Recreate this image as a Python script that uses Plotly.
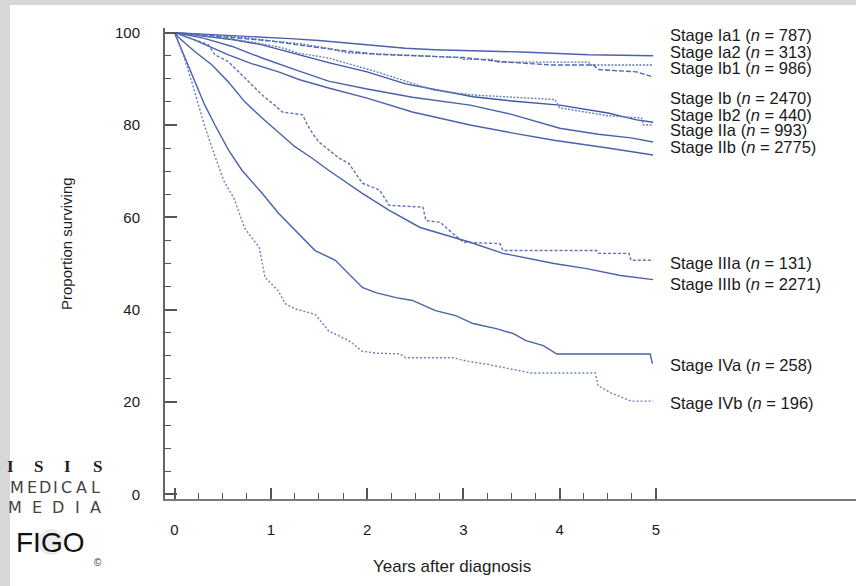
import plotly.graph_objects as go

# ---------------- data ----------------
STAGES = ["Ia1", "Ia2", "Ib1", "Ib", "Ib2", "IIa", "IIb", "IIIa", "IIIb", "IVa", "IVb"]
N_PATIENTS = [787, 313, 986, 2470, 440, 993, 2775, 131, 2271, 258, 196]

T_IA1 = [0, 0.3, 0.6, 0.9, 1.2, 1.5, 1.8, 2.1, 2.4, 2.7, 3.3, 3.6, 4.3, 4.97]
S_IA1 = [100, 99.7, 99.4, 99.0, 98.7, 98.3, 97.7, 97.2, 96.6, 96.3, 96.0, 95.8, 95.2, 95.0]

T_IA2 = [0, 0.3, 0.7, 1.0, 1.3, 1.6, 1.8, 2.2, 2.6, 2.96, 3.0, 3.3, 3.35, 4.3, 4.32, 4.97]
S_IA2 = [100, 99.6, 99.0, 98.2, 97.6, 96.6, 95.6, 95.3, 95.0, 94.6, 94.2, 94.2, 93.6, 93.6, 93.0, 93.0]

T_IB1 = [0, 0.3, 0.6, 1.0, 1.3, 1.7, 2.1, 2.5, 3.0, 3.4, 3.9, 4.35, 4.4, 4.8, 4.97]
S_IB1 = [100, 99.5, 99.0, 98.2, 97.3, 96.2, 95.3, 95.0, 94.6, 93.7, 93.0, 93.0, 92.0, 91.5, 90.4]

T_IB = [0, 0.3, 0.6, 0.9, 1.25, 1.6, 2.0, 2.4, 2.8, 3.1, 3.5, 4.0, 4.5, 4.8, 4.97]
S_IB = [100, 99.3, 98.5, 97.4, 95.4, 93.5, 91.5, 88.9, 87.3, 86.1, 85.2, 84.3, 82.6, 81.1, 80.6]

T_IB2 = [0, 0.2, 0.5, 0.8, 1.1, 1.3, 1.6, 1.8, 2.1, 2.4, 2.7, 3.1, 3.5, 3.95, 4.0, 4.5, 4.85, 4.87, 4.97]
S_IB2 = [100, 99.5, 98.8, 98.0, 96.8, 95.5, 94.5, 93.3, 91.5, 89.5, 87.5, 86.5, 86.0, 85.5, 83.7, 82.0, 81.5, 80.0, 80.0]

T_IIA = [0, 0.3, 0.6, 0.91, 1.25, 1.6, 2.0, 2.47, 3.07, 3.5, 4.0, 4.4, 4.74, 4.97]
S_IIA = [100, 98.8, 97.0, 94.5, 92.0, 89.5, 87.8, 86.0, 84.3, 82.3, 79.3, 78.0, 77.2, 76.3]

T_IIB = [0, 0.2, 0.56, 0.8, 1.08, 1.3, 1.6, 2.0, 2.47, 3.07, 3.5, 3.94, 4.5, 4.97]
S_IIB = [100, 98.5, 95.2, 93.3, 91.5, 89.8, 88.0, 85.8, 82.8, 80.0, 78.3, 76.7, 75.0, 73.5]

T_IIIA = [0, 0.21, 0.35, 0.42, 0.56, 0.73, 0.91, 1.04, 1.12, 1.33, 1.38, 1.44, 1.5, 1.71, 1.81,
          1.95, 2.13, 2.23, 2.58, 2.61, 2.76, 2.89, 3.0, 3.38, 3.41, 4.38, 4.4, 4.72, 4.74, 4.97]
S_IIIA = [100, 98.5, 97.4, 95.2, 93.7, 90.2, 86.5, 84.3, 82.8, 82.2, 80.0, 78.0, 76.3, 72.8, 71.7,
          67.4, 65.9, 62.6, 62.2, 59.3, 58.9, 56.5, 54.6, 54.3, 52.8, 52.8, 52.2, 52.2, 50.7, 50.7]

T_IIIB = [0, 0.04, 0.21, 0.39, 0.56, 0.73, 0.91, 1.08, 1.25, 1.43, 1.6, 1.95, 2.23, 2.55, 2.89,
          3.07, 3.41, 3.94, 4.28, 4.63, 4.97]
S_IIIB = [100, 99.0, 95.9, 93.0, 89.3, 85.0, 81.5, 78.5, 75.3, 72.8, 70.2, 65.2, 61.5, 57.8, 55.7,
          54.6, 52.2, 50.0, 48.9, 47.4, 46.5]

T_IVA = [0, 0.1, 0.21, 0.31, 0.42, 0.56, 0.7, 0.91, 1.08, 1.25, 1.46, 1.67, 1.81, 1.95, 2.09, 2.3,
         2.47, 2.55, 2.71, 2.92, 3.1, 3.34, 3.52, 3.65, 3.83, 3.97, 4.94, 4.96, 4.97]
S_IVA = [100, 95.0, 89.3, 84.5, 80.0, 74.6, 70.2, 65.2, 60.9, 57.2, 52.8, 50.7, 47.8, 44.8, 43.7, 42.6,
         42.0, 41.3, 39.8, 38.7, 37.0, 35.9, 34.8, 33.3, 32.2, 30.4, 30.4, 28.5, 28.5]

T_IVB = [0, 0.1, 0.18, 0.25, 0.31, 0.39, 0.51, 0.62, 0.73, 0.88, 0.94, 1.08, 1.15, 1.25, 1.46, 1.6,
         1.81, 1.95, 2.09, 2.34, 2.4, 2.89, 3.03, 3.24, 3.7, 4.37, 4.4, 4.53, 4.74, 4.97]
S_IVB = [100, 94.6, 89.3, 84.3, 80.0, 75.0, 68.0, 64.0, 57.6, 53.5, 47.0, 44.0, 41.3, 40.2, 39.0, 35.4,
         33.3, 31.0, 30.6, 30.4, 29.6, 29.6, 28.9, 28.2, 26.3, 26.3, 23.5, 22.0, 20.2, 20.2]

TIMES = [T_IA1, T_IA2, T_IB1, T_IB, T_IB2, T_IIA, T_IIB, T_IIIA, T_IIIB, T_IVA, T_IVB]
SURV = [S_IA1, S_IA2, S_IB1, S_IB, S_IB2, S_IIA, S_IIB, S_IIIA, S_IIIB, S_IVA, S_IVB]

X_TICKS = [0, 1, 2, 3, 4, 5]
Y_TICKS = [0, 20, 40, 60, 80, 100]

# ---------------- styling ----------------
DASHES = ["solid", "2px,1.5px", "5px,2px", "solid", "2px,1.5px", "solid", "solid",
          "3px,2px", "solid", "solid", "2px,2px"]
COLORS = ["#4a62ad", "#5d74b8", "#5069b0", "#3f58a6", "#6a80c0", "#4a62ad", "#4a62ad",
          "#5d74b8", "#4a62ad", "#4a62ad", "#6a80c0"]
LABEL_PY = [35, 51.7, 68.3, 98.3, 115, 130, 146.7, 263, 284, 365, 403]   # pixel rows of labels

FONT = "Liberation Sans, Arial, Helvetica, sans-serif"
W, H = 856, 586
L, R, T, B = 165, 0, 28, 87
PW, PH = W - L - R, H - T - B


def xp(px):
    return (px - L) / PW


def yp(py):
    return (H - B - py) / PH


fig = go.Figure()
for name, t, s, dash, col in zip(STAGES, TIMES, SURV, DASHES, COLORS):
    fig.add_trace(go.Scatter(x=t, y=s, mode="lines", name=name,
                             line=dict(color=col, width=1.4, dash=dash),
                             hoverinfo="skip", showlegend=False))

annotations = []
for name, n, py in zip(STAGES, N_PATIENTS, LABEL_PY):
    annotations.append(dict(
        x=xp(668), y=yp(py), xref="paper", yref="paper", xanchor="left", yanchor="middle",
        text=f"Stage {name} (<i>n</i> = {n})", showarrow=False,
        font=dict(family=FONT, size=16.5, color="#1a1a1a")))

# axis titles
annotations.append(dict(x=xp(452), y=yp(566), xref="paper", yref="paper", text="Years after diagnosis",
                        showarrow=False, font=dict(family=FONT, size=17, color="#1e1e1e"),
                        xanchor="center", yanchor="middle"))
annotations.append(dict(x=xp(66), y=yp(244), xref="paper", yref="paper", text="Proportion surviving",
                        showarrow=False, textangle=-90, font=dict(family=FONT, size=15, color="#1e1e1e"),
                        xanchor="center", yanchor="middle"))

# publisher logo
for ch, px in zip("ISIS", [10, 38, 67, 97]):
    annotations.append(dict(x=xp(px), y=yp(466), xref="paper", yref="paper", text=f"<b>{ch}</b>",
                            showarrow=False, xanchor="center", yanchor="middle",
                            font=dict(family="Liberation Serif, DejaVu Serif, serif", size=17, color="#222")))
for ch, px in zip("MEDICAL", [17, 32, 45, 55, 66, 81, 95]):
    annotations.append(dict(x=xp(px), y=yp(487), xref="paper", yref="paper", text=ch,
                            showarrow=False, xanchor="center", yanchor="middle",
                            font=dict(family="DejaVu Sans, sans-serif", size=16, color="#444")))
for ch, px in zip("MEDIA", [15, 37, 58, 77, 95]):
    annotations.append(dict(x=xp(px), y=yp(507), xref="paper", yref="paper", text=ch,
                            showarrow=False, xanchor="center", yanchor="middle",
                            font=dict(family="DejaVu Sans, sans-serif", size=16, color="#444")))
annotations.append(dict(x=xp(50), y=yp(542), xref="paper", yref="paper", text="FIGO", showarrow=False,
                        xanchor="center", yanchor="middle", font=dict(family=FONT, size=28, color="#111")))
annotations.append(dict(x=xp(98), y=yp(562), xref="paper", yref="paper", text="©", showarrow=False,
                        xanchor="center", yanchor="middle", font=dict(family=FONT, size=10, color="#333")))

shapes = [
    dict(type="rect", xref="paper", yref="paper", x0=xp(0), x1=xp(10), y0=yp(H), y1=yp(0),
         fillcolor="#d7d7d7", line=dict(width=0), layer="below"),
    dict(type="rect", xref="paper", yref="paper", x0=xp(0), x1=xp(W), y0=yp(5), y1=yp(0),
         fillcolor="#d7d7d7", line=dict(width=0), layer="below"),
    dict(type="circle", xref="paper", yref="paper", x0=xp(38), x1=xp(64), y0=yp(555), y1=yp(529),
         fillcolor="rgba(200,200,200,0.35)", line=dict(width=0), layer="below"),
]

x_minor = [q / 4 for q in range(1, 20) if q % 4 != 0]
y_minor = [v for v in range(5, 100, 5) if v % 20 != 0]

fig.update_layout(
    width=W, height=H,
    margin=dict(l=L, r=R, t=T, b=B, pad=0),
    paper_bgcolor="white", plot_bgcolor="white",
    annotations=annotations, shapes=shapes,
    xaxis=dict(range=[-9.5 / 96.3, (W - 174.5) / 96.3], tickmode="array", tickvals=X_TICKS,
               ticktext=[str(v) for v in X_TICKS],
               ticks="inside", ticklen=11, tickwidth=1.5, tickcolor="#555",
               showline=True, linecolor="#7a7a7a", linewidth=2,
               showgrid=False, zeroline=False, ticklabelstandoff=16,
               tickfont=dict(family=FONT, size=15, color="#1a1a1a"),
               minor=dict(tickmode="array", tickvals=x_minor, ticks="inside", ticklen=6,
                          tickwidth=1.2, tickcolor="#555", showgrid=False)),
    yaxis=dict(range=[-1, 101], tickmode="array", tickvals=Y_TICKS,
               ticks="inside", ticklen=12, tickwidth=1.6, tickcolor="#555",
               showline=True, linecolor="#666", linewidth=2,
               showgrid=False, zeroline=False, ticklabelstandoff=20,
               tickfont=dict(family=FONT, size=15, color="#1a1a1a"),
               minor=dict(tickmode="array", tickvals=y_minor, ticks="inside", ticklen=6,
                          tickwidth=1.2, tickcolor="#555", showgrid=False)),
)

fig.write_html("out.html", config={"displayModeBar": False},
               post_script="document.body.style.margin='0px';document.body.style.overflow='hidden';")
